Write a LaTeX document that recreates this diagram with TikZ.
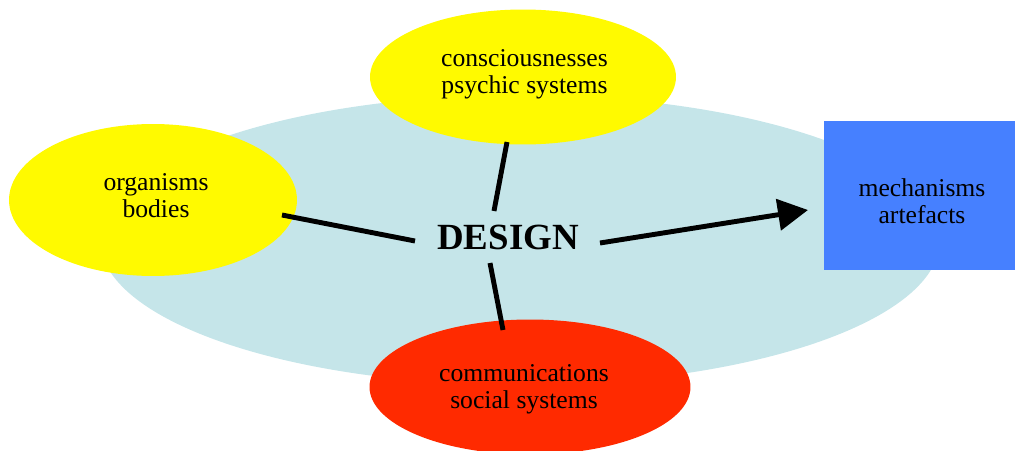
\documentclass[tikz,border=0pt]{standalone}
\usepackage{fontspec}
\setmainfont{Liberation Serif}
\usetikzlibrary{shapes.geometric,arrows.meta}
\definecolor{bgblue}{HTML}{C5E5E9}
\definecolor{yel}{HTML}{FFFA00}
\definecolor{redc}{HTML}{FF2A00}
\definecolor{boxblue}{HTML}{4680FF}
\tikzset{
  blob/.style={ellipse, inner sep=0pt},
  txt/.style={align=center, inner sep=0pt, font=\fontsize{14.6}{15.6}\selectfont},
  conn/.style={line width=2.8pt, black},
}
\begin{document}
\begin{tikzpicture}[x=0.02cm,y=-0.02cm]
\useasboundingbox (0,0) rectangle (1015,450);
\node[ellipse, fill=bgblue, inner sep=0pt, minimum width=16.8cm, minimum height=5.8cm] (bg) at (520,240) {};
\node[blob, fill=yel, minimum width=6.12cm, minimum height=2.7cm,
  label={[txt, yshift=0.06cm, xshift=0.03cm]center:consciousnesses\\psychic systems}] (psy) at (523,77) {};
\node[blob, fill=yel, minimum width=5.76cm, minimum height=3.04cm,
  label={[txt, yshift=0.09cm, xshift=0.06cm]center:organisms\\bodies}] (org) at (153,200) {};
\node[blob, fill=redc, minimum width=6.42cm, minimum height=2.7cm,
  label={[txt, yshift=-0.04cm, xshift=-0.12cm]center:communications\\social systems}] (soc) at (530,387) {};
\node[fill=boxblue, inner sep=0pt, minimum width=3.82cm, minimum height=2.98cm,
  label={[txt, yshift=-0.11cm, xshift=0.05cm]center:mechanisms\\artefacts}] (mech) at (919.5,195.5) {};
\node[font=\fontsize{21}{24}\selectfont\bfseries] (design) at (508,237) {DESIGN};
\coordinate (oe) at (282,215);
\coordinate (od) at (415,241);
\coordinate (pe) at (507,142);
\coordinate (pd) at (494,211);
\coordinate (se) at (503,330);
\coordinate (sd) at (490,263);
\coordinate (ds) at (600,243);
\coordinate (me) at (808,210);
\draw[conn] (oe) -- (od);
\draw[conn] (pe) -- (pd);
\draw[conn] (se) -- (sd);
\draw[conn, -{Triangle[length=0.6cm,width=0.62cm]}] (ds) -- (me);
\end{tikzpicture}
\end{document}
